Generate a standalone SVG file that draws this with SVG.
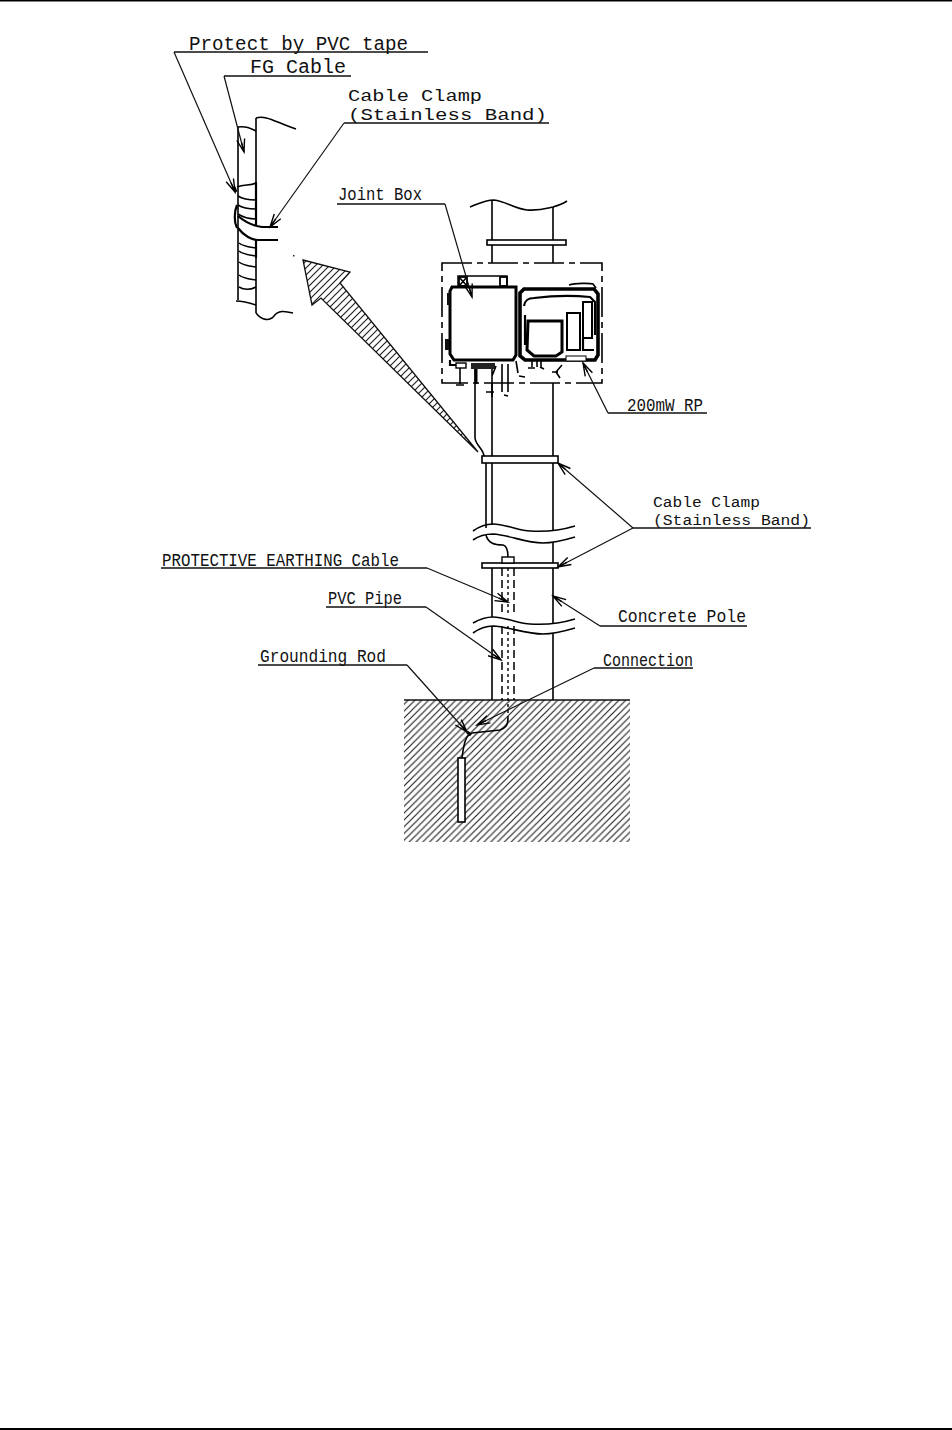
<svg xmlns="http://www.w3.org/2000/svg" width="952" height="1430" viewBox="0 0 952 1430">
<style>
text{font-family:"Liberation Mono","Courier New",monospace;font-size:20px;fill:#111}
.s{font-size:18px}
.c1{font-size:16.5px}
.c2{font-size:15.5px}
.l{fill:none;stroke:#000;stroke-width:1.6}
.t{fill:none;stroke:#000;stroke-width:3}
.m{fill:none;stroke:#000;stroke-width:2.2}
.leader{fill:none;stroke:#111;stroke-width:1.2;marker-end:url(#ah)}
.u{fill:none;stroke:#111;stroke-width:1.6}
.dash{fill:none;stroke:#000;stroke-width:1.5;stroke-dasharray:8 4}
.dot{fill:none;stroke:#000;stroke-width:1.4;stroke-dasharray:3 3}
</style>
<defs>
<marker id="ah" markerUnits="userSpaceOnUse" markerWidth="16" markerHeight="12" refX="14" refY="6" orient="auto">
<path d="M1 2 L14 6 L1 10 M4 6 L14 6" fill="none" stroke="#000" stroke-width="1.4"/>
</marker>
<pattern id="soil" patternUnits="userSpaceOnUse" width="6.8" height="6.8">
<path d="M-1.7 1.7 L1.7 -1.7 M0 6.8 L6.8 0 M5.1 8.5 L8.5 5.1" stroke="#222" stroke-width="1.2"/>
</pattern>
<pattern id="arrowhatch" patternUnits="userSpaceOnUse" width="7" height="7">
<path d="M-1.75 1.75 L1.75 -1.75 M0 7 L7 0 M5.25 8.75 L8.75 5.25" stroke="#222" stroke-width="1.2"/>
</pattern>
</defs>
<rect width="952" height="1430" fill="#fff"/>
<g id="page-rules">
<rect x="0" y="0" width="952" height="1.5" fill="#000"/>
<rect x="0" y="1428" width="952" height="2" fill="#000"/>
</g>

<g id="ground">
<rect x="404" y="700" width="226" height="142" fill="url(#soil)"/>
<path class="u" d="M404 700H630"/>
</g>

<g id="detail-pole">
<path class="l" d="M238 127V300M256 118V182M256 258V313"/>
<path class="l" d="M256 118C266 115 275 122 296 129M238 127C246 126 250 128 256 131M236 301C244 301 250 303 256 305M256 313C262 321 270 321 274 316C278 310 285 311 293 313"/>
<path class="m" d="M256 182V226M256 240V258"/>
<path class="l" d="M237 187C244 184 250 186 256 183M238 196C244 200 250 200 256 200M238 205C244 209 250 209 256 209M238 214C244 218 250 219 256 219"/>
<path class="l" d="M239 243C244 247 250 247 256 248M239 251C244 255 250 255 256 256M239 262C244 266 250 266 256 267M239 275C244 279 250 279 256 280M239 287C244 290 250 290 256 287"/>
<path class="t" d="M236 192L234 187"/>
<path class="m" d="M237 205C234 212 234 222 237 228M238 216C245 222 254 226 262 227H278M238 228C244 236 252 240 258 240H278"/>
</g>

<g id="big-arrow">
<path d="M303 260L350 272L340 283L478 452L321 298L312 305Z" fill="url(#arrowhatch)" stroke="#111" stroke-width="1.3"/>
<rect x="293" y="255" width="1.5" height="1.5" fill="#222"/>
</g>

<g id="pole">
<path class="l" d="M470 207C480 203 486 200 494 200C505 201 515 209 527 210C540 211 548 208 553 207C560 205 564 203 567 201"/>
<path class="l" d="M492 200V263M553 207V263"/>
<rect x="487" y="240" width="79" height="5" fill="#fff" stroke="#000" stroke-width="1.6"/>
<path class="l" d="M492 383V456M553 383V456M475 369V438C476 446 483 448 484 456"/>
<rect x="482" y="456" width="76" height="7" fill="#fff" stroke="#000" stroke-width="1.6"/>
<path class="l" d="M486 463V528M492 463V525M553 463V531"/>
<path class="l" d="M473 531C480 526 486 524 493 524C505 524 520 531 530 531C545 532 562 530 575 526"/>
<path class="l" d="M473 540C480 535 486 534 493 534C510 535 525 543 543 543C555 543 565 540 575 537"/>
<path class="l" d="M553 543V563"/>
<rect x="482" y="563" width="76" height="5" fill="#fff" stroke="#000" stroke-width="1.6"/>
<path class="l" d="M492 568V617M553 568V624"/>
<path class="l" d="M473 623C480 619 486 617 493 617C505 617 520 624 530 624C545 625 562 623 575 619"/>
<path class="l" d="M473 633C480 628 486 626 493 626C510 627 525 634 543 634C555 634 565 631 575 628"/>
<path class="l" d="M492 626V700M553 634V700"/>
</g>

<g id="earth-cable">
<path class="l" d="M486 535C488 543 494 545 503 545C507 546 508 550 508 557"/>
<rect x="502" y="557" width="12" height="6" fill="#fff" stroke="#000" stroke-width="1.4"/>
<path class="dash" d="M502 568V616M514 568V616M502 626V700M514 626V700"/>
<path class="dot" d="M508 568V616M508 626V718"/>
<path class="l" d="M508 718C508 726 505 728 500 730L472 733"/>
</g>

<g id="grounding-rod">
<path class="l" d="M472 733C466 735 464 742 462 758"/>
<path class="t" d="M467 732L471 735"/>
<rect x="458" y="758" width="7" height="64" fill="#fff" stroke="#000" stroke-width="1.6"/>
</g>

<g id="install-frame">
<path class="l" d="M442 263H602V383H442Z" stroke-dasharray="30 5 6 5"/>
</g>

<g id="joint-box">
<rect x="458" y="276" width="49" height="11" fill="#fff" stroke="#000" stroke-width="1.5"/>
<rect x="459" y="277" width="8" height="9" fill="none" stroke="#000" stroke-width="1.8"/>
<path class="l" d="M459 277L467 286M467 277L459 286"/>
<rect x="500" y="277" width="7" height="9" fill="none" stroke="#000" stroke-width="1.8"/>
<path class="t" d="M452 287H516V355L513 360H454L450 354V291Z"/>
<path class="m" d="M450 360V365H456"/>
<rect x="445" y="339" width="4" height="11" fill="#111"/>
<rect x="447" y="293" width="3" height="12" fill="#111"/>
<rect x="456" y="363" width="10" height="5" fill="#fff" stroke="#000" stroke-width="1.4"/>
<rect x="471" y="363" width="24" height="6" fill="#222"/>
<path class="l" d="M460 368V384M456 385H464M492 369V397M486 392H494M496 366L492 376M502 364V392M508 364V392M504 395L508 396M516 361L518 373M519 376L525 377"/>
<path class="t" d="M476 369V384"/>
</g>

<g id="rp-200mw">
<path d="M524 289H594L598 294V355L595 360H525L520 356V293Z" fill="none" stroke="#000" stroke-width="3.6"/>
<path class="m" d="M524 306C525 300 528 298 534 298C550 296 570 295 590 297L595 302V335"/>
<path class="l" d="M569 285C575 283 590 283 593 284L596 288"/>
<path class="m" d="M525 315V345"/>
<path class="t" d="M528 321H562V352L556 356H534L527 350Z"/>
<rect x="567" y="313" width="13" height="37" fill="#fff" stroke="#000" stroke-width="2"/>
<rect x="583" y="302" width="9" height="36" fill="#fff" stroke="#000" stroke-width="2"/>
<path class="m" d="M583 338V350H594"/>
<rect x="566" y="356" width="20" height="5" fill="#fff" stroke="#000" stroke-width="1"/>
<path class="l" d="M532 361V367M537 361V367M541 361V367M528 368H535M540 367L544 369M562 365L556 372L560 378M552 372H558"/>
</g>

<g id="connectors">
<path class="u" d="M174 52H428M224 76H351M344 123H549M337 204H445M608 413H707M633 528H811M600 626H747M594 668H693M161 568H427M326 607H426M258 665H407"/>
<path class="leader" d="M174 52L235 192"/>
<path class="leader" d="M224 76L244 152"/>
<path class="leader" d="M344 123L270 227"/>
<path class="leader" d="M445 204L472 297"/>
<path class="leader" d="M608 413L583 363"/>
<path class="leader" d="M633 528L558 463"/>
<path class="leader" d="M633 528L558 567"/>
<path class="leader" d="M600 626L553 596"/>
<path class="leader" d="M427 568L508 602"/>
<path class="leader" d="M426 607L501 660"/>
<path class="leader" d="M594 668L477 725"/>
<path class="leader" d="M407 665L467 732"/>
</g>

<g id="labels">
<text x="189" y="50" textLength="219" lengthAdjust="spacingAndGlyphs">Protect by PVC tape</text>
<text x="250" y="73" textLength="96" lengthAdjust="spacingAndGlyphs">FG Cable</text>
<text class="c1" x="348" y="101" textLength="134" lengthAdjust="spacingAndGlyphs">Cable Clamp</text>
<text class="c1" x="348" y="120" textLength="199" lengthAdjust="spacingAndGlyphs">(Stainless Band)</text>
<text class="s" x="338" y="200" textLength="84" lengthAdjust="spacingAndGlyphs">Joint Box</text>
<text class="s" x="627" y="411" textLength="76" lengthAdjust="spacingAndGlyphs">200mW RP</text>
<text class="c2" x="653" y="507" textLength="107" lengthAdjust="spacingAndGlyphs">Cable Clamp</text>
<text class="c2" x="653" y="525" textLength="157" lengthAdjust="spacingAndGlyphs">(Stainless Band)</text>
<text class="s" x="162" y="566" textLength="237" lengthAdjust="spacingAndGlyphs">PROTECTIVE EARTHING Cable</text>
<text class="s" x="328" y="604" textLength="74" lengthAdjust="spacingAndGlyphs">PVC Pipe</text>
<text class="s" x="618" y="622" textLength="128" lengthAdjust="spacingAndGlyphs">Concrete Pole</text>
<text class="s" x="260" y="662" textLength="126" lengthAdjust="spacingAndGlyphs">Grounding Rod</text>
<text class="s" x="603" y="666" textLength="90" lengthAdjust="spacingAndGlyphs">Connection</text>
</g>
</svg>
